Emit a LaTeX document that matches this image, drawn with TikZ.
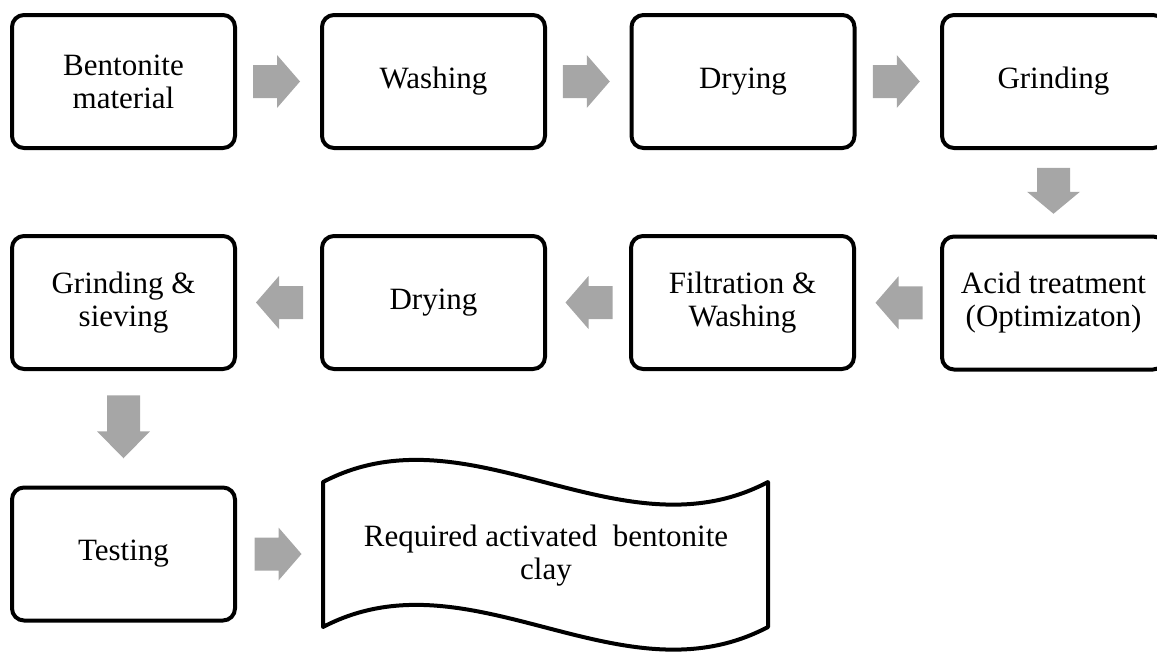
\documentclass[tikz,border=0pt]{standalone}
\usepackage{fontspec}
\setmainfont{Liberation Serif}
\usetikzlibrary{calc}
\definecolor{arrowgray}{RGB}{166,166,166}
\begin{document}
\begin{tikzpicture}[x=1pt,y=-1pt,
  stepbox/.style={draw=black, line width=4pt, rounded corners=12pt,
    minimum width=223pt, minimum height=133pt, align=center,
    font=\fontsize{31}{33}\selectfont, inner sep=0pt},
  wavetext/.style={align=center, font=\fontsize{31}{33}\selectfont, inner sep=0pt},
  pics/blockarrow/.style 2 args={code={
    \fill[arrowgray] (-#1,-16.5) -- ({#1-#2},-16.5) -- ({#1-#2},-26.5) -- (#1,0)
      -- ({#1-#2},26.5) -- ({#1-#2},16.5) -- (-#1,16.5) -- cycle;}}]
\useasboundingbox (0,0) rectangle (1157,651);
% row 1
\node[stepbox] (b1) at (123.5,81.5) {Bentonite\\material};
\node[stepbox] (b2) at (433.5,81.5) {Washing};
\node[stepbox] (b3) at (743,81.5) {Drying};
\node[stepbox] (b4) at (1053.5,81.5) {Grinding};
% row 2
\node[stepbox] (c4) at (1053.5,303) {Acid treatment\\(Optimizaton)};
\node[stepbox] (c3) at (742.5,302.5) {Filtration \&\\Washing};
\node[stepbox] (c2) at (433.5,302.5) {Drying};
\node[stepbox] (c1) at (123.5,302.5) {Grinding \&\\sieving};
% row 3
\node[stepbox] (d1) at (123.5,554) {Testing};
\draw[line width=4pt, line join=round]
  (323,482) coordinate (w1)
  .. controls (470,405) and (620,560) .. (768,482) coordinate (w2)
  -- (768,627) coordinate (w3)
  .. controls (620,705) and (470,550) .. (323,627) coordinate (w4)
  -- cycle;
\node[wavetext] (w) at (546,556) {Required activated\ \ bentonite\\clay};
% arrows
\pic at ($(b1.east)!0.5!(b2.west)+(-2,0)$) {blockarrow={23.5}{23}};
\pic at ($(b2.east)!0.5!(b3.west)+(-2,0)$) {blockarrow={23.5}{23}};
\pic at ($(b3.east)!0.5!(b4.west)+(-2,0)$) {blockarrow={23.5}{23}};
\pic[rotate=-90] at ($(b4.south)!0.5!(c4.north)+(0,-1.5)$) {blockarrow={23}{22}};
\pic[rotate=180] at ($(c4.west)!0.5!(c3.east)+(1,0)$) {blockarrow={23.5}{23}};
\pic[rotate=180] at ($(c3.west)!0.5!(c2.east)+(1,0)$) {blockarrow={23.5}{23}};
\pic[rotate=180] at ($(c2.west)!0.5!(c1.east)+(1,0)$) {blockarrow={23.5}{23}};
\pic[rotate=-90] at ($(c1.south)!0.5!(d1.north)+(0,-1.5)$) {blockarrow={31.5}{27}};
\pic at ($(d1.east)!0.5!(w1|-d1.east)+(-2,0)$) {blockarrow={23.5}{23}};
\end{tikzpicture}
\end{document}
